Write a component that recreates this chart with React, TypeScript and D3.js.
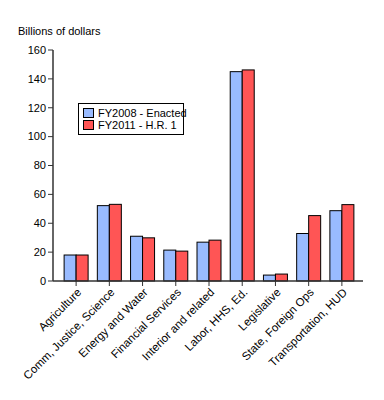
import React from "react";
import * as d3 from "d3";

const categories = [
  "Agriculture",
  "Comm, Justice, Science",
  "Energy and Water",
  "Financial Services",
  "Interior and related",
  "Labor, HHS, Ed.",
  "Legislative",
  "State, Foreign Ops",
  "Transportation, HUD",
];
const fy2008 = [18, 52.2, 31, 21.4, 26.9, 145, 4.1, 32.9, 48.7];
const fy2011 = [18, 53.1, 29.9, 20.7, 28.3, 146.2, 4.8, 45.3, 52.9];
const seriesNames = ["FY2008 - Enacted", "FY2011 - H.R. 1"];
const yTicks = [0, 20, 40, 60, 80, 100, 120, 140, 160];

const W = 384;
const H = 400;
const left = 53;
const right = 363;
const top = 50;
const bottom = 281;
const colors = ["#99BBFF", "#FF5555"];
const font = "Liberation Sans, Arial, sans-serif";

export default function App() {
  const x = d3
    .scaleBand<string>()
    .domain(categories)
    .range([59.5, 358.5])
    .paddingInner(0)
    .paddingOuter(0);
  const y = d3.scaleLinear().domain([0, 160]).range([bottom, top]);
  const barW = 12;
  const series = [fy2008, fy2011];

  return (
    <svg
      width={W}
      height={H}
      style={{ position: "absolute", left: 0, top: 0, background: "#fff" }}
      fontFamily={font}
    >
      <text x={18} y={35} fontSize={11} fill="#000">
        Billions of dollars
      </text>
      {categories.map((c, i) => {
        const cx = (x(c) as number) + x.bandwidth() / 2;
        return series.map((s, k) => (
          <rect
            key={c + k}
            x={cx - barW + k * barW}
            y={y(s[i])}
            width={barW}
            height={bottom - y(s[i])}
            fill={colors[k]}
            stroke="#000"
            strokeWidth={1}
          />
        ));
      })}
      <line x1={left} x2={left} y1={top} y2={bottom} stroke="#333" strokeWidth={1.5} />
      {yTicks.map((t) => (
        <g key={t}>
          <line x1={left - 5} x2={left} y1={y(t)} y2={y(t)} stroke="#333" />
          <text
            x={left - 7}
            y={y(t)}
            dy="0.35em"
            textAnchor="end"
            fontSize={11}
            fill="#000"
          >
            {t}
          </text>
        </g>
      ))}
      <line x1={left} x2={right} y1={bottom} y2={bottom} stroke="#333" strokeWidth={1.5} />
      {categories.map((c) => {
        const cx = (x(c) as number) + x.bandwidth() / 2;
        return (
          <g key={c}>
            <line x1={cx} x2={cx} y1={bottom} y2={bottom + 5} stroke="#333" />
            <text
              transform={`translate(${cx + 6},${bottom + 12}) rotate(-45)`}
              textAnchor="end"
              fontSize={11.5}
              fill="#000"
            >
              {c}
            </text>
          </g>
        );
      })}
      <rect x={78.5} y={103.5} width={105} height={31} fill="#fff" stroke="#000" />
      {seriesNames.map((n, k) => (
        <g key={n}>
          <rect
            x={83.5}
            y={108.5 + k * 12}
            width={10}
            height={9}
            fill={colors[k]}
            stroke="#000"
          />
          <text x={98} y={117 + k * 12} fontSize={11} fill="#000">
            {n}
          </text>
        </g>
      ))}
    </svg>
  );
}
